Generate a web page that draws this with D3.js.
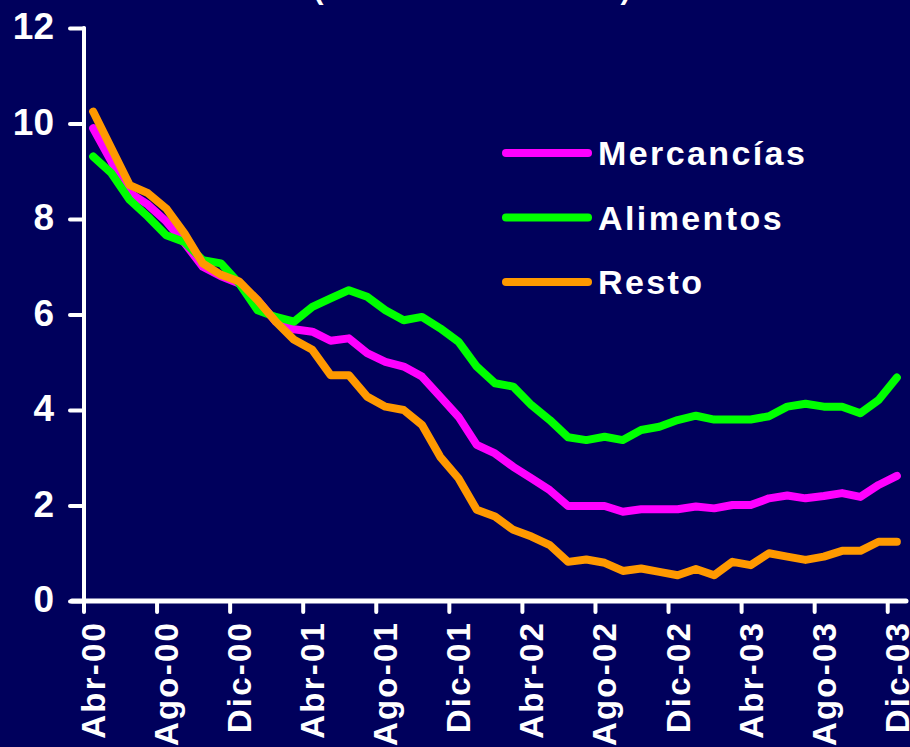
<!DOCTYPE html>
<html>
<head>
<meta charset="utf-8">
<script src="https://cdn.jsdelivr.net/npm/d3@7"></script>
<style>
  html, body { margin: 0; padding: 0; background: #00005c; }
  svg { display: block; }
  text { font-family: "Liberation Sans", Arial, sans-serif; font-weight: bold; fill: #ffffff; }
</style>
</head>
<body>
<svg id="chart" width="910" height="747"></svg>
<script>
// Monthly periods, Abr-00 .. Dic-03
const monthNames = ["Ene","Feb","Mar","Abr","May","Jun","Jul","Ago","Sep","Oct","Nov","Dic"];
const months = [];
for (let yr = 2000; yr <= 2003; yr++) {
  for (let m = 0; m < 12; m++) {
    if (yr === 2000 && m < 3) continue;
    months.push(monthNames[m] + "-" + String(yr).slice(2));
  }
}
const tickLabels = ["Abr-00","Ago-00","Dic-00","Abr-01","Ago-01","Dic-01","Abr-02","Ago-02","Dic-02","Abr-03","Ago-03","Dic-03"];
const yTicks = [0, 2, 4, 6, 8, 10, 12];

// Annual rates (%)
const mercancias = [9.90, 9.20, 8.55, 8.30, 7.95, 7.50, 7.00, 6.80, 6.65, 6.30, 5.85, 5.69,
  5.64, 5.45, 5.50, 5.19, 5.01, 4.91, 4.70, 4.28, 3.86, 3.27, 3.09, 2.81,
  2.57, 2.32, 1.99, 1.99, 1.99, 1.87, 1.92, 1.92, 1.92, 1.98, 1.94, 2.01,
  2.01, 2.15, 2.21, 2.15, 2.20, 2.26, 2.18, 2.43, 2.62];
const alimentos = [9.31, 8.96, 8.40, 8.05, 7.66, 7.52, 7.14, 7.07, 6.65, 6.09, 5.95, 5.85,
  6.16, 6.34, 6.51, 6.37, 6.09, 5.88, 5.95, 5.71, 5.43, 4.91, 4.56, 4.49,
  4.10, 3.79, 3.43, 3.37, 3.44, 3.37, 3.58, 3.65, 3.79, 3.88, 3.80, 3.80,
  3.80, 3.87, 4.07, 4.13, 4.07, 4.07, 3.93, 4.21, 4.68];
const resto = [10.25, 9.48, 8.71, 8.54, 8.22, 7.70, 7.07, 6.83, 6.69, 6.30, 5.85, 5.47,
  5.26, 4.73, 4.73, 4.28, 4.07, 4.00, 3.69, 3.02, 2.57, 1.91, 1.77, 1.49,
  1.35, 1.17, 0.82, 0.87, 0.80, 0.63, 0.68, 0.61, 0.54, 0.67, 0.54, 0.82,
  0.75, 1.00, 0.93, 0.86, 0.93, 1.05, 1.05, 1.24, 1.24];

const seriesNames = ["Mercancías", "Alimentos", "Resto"];
const seriesColors = ["#ff00ff", "#00ff00", "#ff9900"];
const seriesValues = [mercancias, alimentos, resto];

const svg = d3.select("#chart");
const plotLeft = 84, plotRight = 906, plotTop = 28, plotBottom = 601;

const x = d3.scaleBand().domain(months).range([plotLeft, plotRight]).padding(0);
const y = d3.scaleLinear().domain([0, 12]).range([plotBottom, plotTop]);
const cx = m => x(m) + x.bandwidth() / 2;

// Title (partially outside the top edge)
svg.append("text")
  .attr("x", 472).attr("y", -1)
  .attr("text-anchor", "middle")
  .style("font-size", "30px")
  .text("(variación anual en %)");

// Y axis
const yAxis = d3.axisLeft(y).tickValues(yTicks).tickSize(14).tickPadding(16).tickFormat(d3.format("d"));
const gy = svg.append("g").attr("transform", `translate(${plotLeft},0)`).call(yAxis);
gy.select(".domain").remove();
gy.selectAll(".tick line").attr("stroke", "#fff").attr("stroke-width", 4).attr("stroke-linecap", "round");
gy.selectAll(".tick text").style("font-size", "37px").attr("fill", "#fff").attr("dy", "0.29em");
svg.append("line")
  .attr("x1", plotLeft).attr("x2", plotLeft).attr("y1", plotTop).attr("y2", plotBottom)
  .attr("stroke", "#fff").attr("stroke-width", 4).attr("stroke-linecap", "round");

// X axis: ticks at band boundaries every four months, labels at band centres
const xBoundaries = tickLabels.map(l => x(l));
svg.append("line")
  .attr("x1", 72).attr("x2", plotRight).attr("y1", plotBottom).attr("y2", plotBottom)
  .attr("stroke", "#fff").attr("stroke-width", 5).attr("stroke-linecap", "round");
svg.append("g").selectAll("line").data(xBoundaries).join("line")
  .attr("x1", d => d).attr("x2", d => d)
  .attr("y1", plotBottom).attr("y2", plotBottom + 11)
  .attr("stroke", "#fff").attr("stroke-width", 4).attr("stroke-linecap", "round");
svg.append("g").selectAll("text").data(tickLabels).join("text")
  .attr("transform", d => `translate(${cx(d)},621) rotate(-90)`)
  .attr("text-anchor", "end")
  .attr("dy", "0.36em")
  .style("font-size", "33px")
  .style("letter-spacing", "2.2px")
  .text(d => d);

// Series lines
const line = d3.line().x((d, i) => cx(months[i])).y(d => y(d));
seriesValues.forEach((vals, k) => {
  svg.append("path")
    .datum(vals)
    .attr("d", line)
    .attr("fill", "none")
    .attr("stroke", seriesColors[k])
    .attr("stroke-width", 8)
    .attr("stroke-linejoin", "round")
    .attr("stroke-linecap", "round");
});

// Legend
const legend = svg.append("g");
seriesNames.forEach((name, k) => {
  const ly = 153 + k * 64.5;
  legend.append("line")
    .attr("x1", 506).attr("x2", 588).attr("y1", ly).attr("y2", ly)
    .attr("stroke", seriesColors[k]).attr("stroke-width", 8).attr("stroke-linecap", "round");
  legend.append("text")
    .attr("x", 598).attr("y", ly).attr("dy", "0.36em")
    .style("font-size", "34px")
    .style("letter-spacing", "2.4px")
    .text(name);
});
</script>
</body>
</html>
